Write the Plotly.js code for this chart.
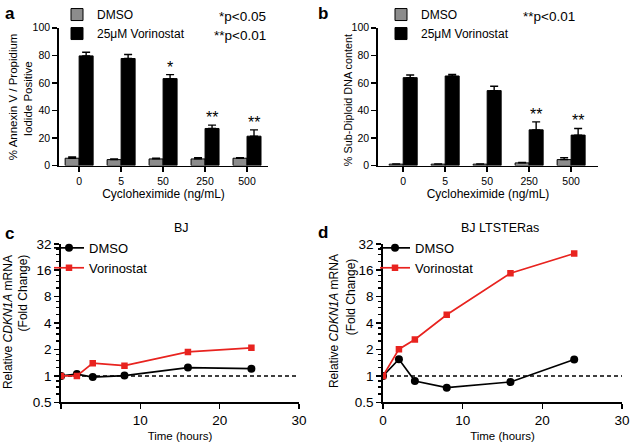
<!DOCTYPE html>
<html>
<head>
<meta charset="utf-8">
<script src="https://cdn.plot.ly/plotly-3.0.1.min.js"></script>
<style>
html, body { margin: 0; padding: 0; background: #fff; }
#chart { width: 631px; height: 445px; }
</style>
</head>
<body>
<div id="chart"></div>
<script>
// ---- data ----
const categories = ['0', '5', '50', '250', '500'];
const annexinDMSO = [5.3, 4.3, 4.8, 4.8, 5.3];
const annexinDMSOErr = [1.0, 0.4, 0.5, 0.8, 0.3];
const annexinVor = [79.6, 77.7, 63.1, 26.9, 21.3];
const annexinVorErr = [2.6, 2.9, 2.9, 2.4, 4.6];
const annexinSig = ['', '', '*', '**', '**'];

const subG1DMSO = [1.0, 1.0, 1.0, 1.9, 4.3];
const subG1DMSOErr = [0.2, 0.2, 0.2, 0.3, 1.4];
const subG1Vor = [63.8, 65.0, 54.4, 25.9, 22.1];
const subG1VorErr = [1.9, 1.2, 3.1, 5.8, 4.8];
const subG1Sig = ['', '', '', '**', '**'];

const timeHours = [0, 2, 4, 8, 16, 24];
const bjDMSO = [1.0, 1.05, 0.97, 1.01, 1.245, 1.21];
const bjVor = [1.0, 1.0, 1.40, 1.31, 1.88, 2.09];
const rasDMSO = [1.0, 1.55, 0.877, 0.736, 0.854, 1.54];
const rasVor = [1.0, 2.02, 2.6, 4.98, 14.8, 24.8];

const refX = [0, 30];
const refY = [1, 1];

const barTicks = [0, 20, 40, 60, 80, 100];
const logTicks = [0.5, 1, 2, 4, 8, 16, 32];
const logMinor = [];
[0.5, 1, 2, 4, 8, 16].forEach(b => { logMinor.push(b * 1.25, b * 1.5, b * 1.75); });

// ---- style ----
const FONT = 'Liberation Sans, Arial, sans-serif';
const GRAY = '#8c8c8c';
const RED = '#e8231f';
const W = 631, H = 445;
const px = v => v / W;
const py = v => 1 - v / H;

function barTrace(y, err, name, color, xa, ya, legend) {
  return {
    type: 'bar', x: categories, y: y, name: name, xaxis: xa, yaxis: ya, legend: legend,
    marker: { color: color, line: { color: '#000', width: 1 } },
    error_y: { type: 'data', array: err, arrayminus: err.map(() => 0), symmetric: false,
               color: '#000', thickness: 1.4, width: 4 }
  };
}

function lineTrace(y, name, color, symbol, size, xa, ya, legend) {
  return {
    type: 'scatter', mode: 'lines+markers', x: timeHours, y: y, name: name,
    xaxis: xa, yaxis: ya, legend: legend,
    line: { color: color, width: 1.7 },
    marker: { color: color, symbol: symbol, size: size }
  };
}

function refTrace(xa, ya) {
  return { type: 'scatter', mode: 'lines', x: refX, y: refY, xaxis: xa, yaxis: ya,
           showlegend: false, hoverinfo: 'skip',
           line: { color: '#000', width: 1.4, dash: '4px,3px' } };
}

const data = [
  barTrace(annexinDMSO, annexinDMSOErr, 'DMSO', GRAY, 'x', 'y', 'legend'),
  barTrace(annexinVor, annexinVorErr, '25\u03bcM Vorinostat', '#000', 'x', 'y', 'legend'),
  barTrace(subG1DMSO, subG1DMSOErr, 'DMSO', GRAY, 'x2', 'y2', 'legend2'),
  barTrace(subG1Vor, subG1VorErr, '25\u03bcM Vorinostat', '#000', 'x2', 'y2', 'legend2'),
  refTrace('x3', 'y3'),
  lineTrace(bjDMSO, 'DMSO', '#000', 'circle', 8, 'x3', 'y3', 'legend3'),
  lineTrace(bjVor, 'Vorinostat', RED, 'square', 6.5, 'x3', 'y3', 'legend3'),
  refTrace('x4', 'y4'),
  lineTrace(rasDMSO, 'DMSO', '#000', 'circle', 8, 'x4', 'y4', 'legend4'),
  lineTrace(rasVor, 'Vorinostat', RED, 'square', 6.5, 'x4', 'y4', 'legend4')
];

const axisBase = {
  showline: true, linecolor: '#000', linewidth: 1.8, ticks: 'outside', ticklen: 5,
  tickwidth: 1.6, tickcolor: '#000', showgrid: false, zeroline: false,
  automargin: false, fixedrange: true
};

function catX(domain, range, anchor) {
  return Object.assign({}, axisBase, {
    domain: domain, anchor: anchor, type: 'category', range: range,
    tickfont: { family: FONT, size: 10.5, color: '#000' },
    title: { text: 'Cycloheximide (ng/mL)', font: { family: FONT, size: 12, color: '#000' }, standoff: 3 }
  });
}
function barY(domain, anchor) {
  return Object.assign({}, axisBase, {
    domain: domain, anchor: anchor, range: [0, 100], tickvals: barTicks,
    tickfont: { family: FONT, size: 10.5, color: '#000' }
  });
}
function timeX(domain, anchor, ticktext) {
  return Object.assign({}, axisBase, {
    domain: domain, anchor: anchor, range: [0, 30], tickvals: [0, 10, 20, 30], ticktext: ticktext,
    tickfont: { family: FONT, size: 13.5, color: '#000' },
    title: { text: 'Time (hours)', font: { family: FONT, size: 11.5, color: '#000' }, standoff: 4 }
  });
}
function logY(domain, anchor) {
  return Object.assign({}, axisBase, {
    domain: domain, anchor: anchor, type: 'log', range: [Math.log10(0.5), Math.log10(32)],
    tickvals: logTicks, ticktext: logTicks.map(String),
    minor: { tickvals: logMinor, ticks: 'outside', ticklen: 3, tickwidth: 1.4, tickcolor: '#000', showgrid: false },
    tickfont: { family: FONT, size: 13.5, color: '#000' }
  });
}

const annotations = [];
function sigAnn(sig, vals, errs, xref, yref) {
  sig.forEach((s, i) => {
    if (!s) return;
    annotations.push({ xref: xref, yref: yref, x: i + 0.167, y: vals[i] + errs[i], text: s,
      showarrow: false, yanchor: 'bottom', yshift: -3,
      font: { family: FONT, size: 16, color: '#000' } });
  });
}
sigAnn(annexinSig, annexinVor, annexinVorErr, 'x', 'y');
sigAnn(subG1Sig, subG1Vor, subG1VorErr, 'x2', 'y2');

function paperText(text, x, y, size, xanchor, angle) {
  annotations.push({ xref: 'paper', yref: 'paper', x: px(x), y: py(y), text: text,
    showarrow: false, xanchor: xanchor || 'left', yanchor: 'middle', textangle: angle || 0,
    font: { family: FONT, size: size, color: '#000' } });
}
paperText('<b>a</b>', 3, 10, 17);
paperText('<b>b</b>', 316, 10, 17);
paperText('<b>c</b>', 3, 232, 17);
paperText('<b>d</b>', 316, 231, 17);
paperText('*p<0.05', 268, 13, 13.5, 'right');
paperText('**p<0.01', 268, 32, 13.5, 'right');
paperText('**p<0.01', 577, 13, 13.5, 'right');
paperText('BJ', 181, 226, 12.5, 'center');
paperText('BJ LTSTERas', 500, 226, 12.5, 'center');
// y-axis titles
paperText('% Annexin V / Propidium', 13, 94, 11.5, 'center', -90);
paperText('Iodide Positive', 28, 96, 11.5, 'center', -90);
paperText('% Sub-Diploid DNA content', 348, 97, 10.8, 'center', -90);
paperText('Relative <i>CDKN1A</i> mRNA', 8, 321, 12, 'center', -90);
paperText('(Fold Change)', 23, 292, 12, 'center', -90);
paperText('Relative <i>CDKN1A</i> mRNA', 334, 320, 12, 'center', -90);
paperText('(Fold Change)', 351, 296, 12, 'center', -90);

function legendCfg(x, y, size) {
  return { x: px(x), y: py(y), xanchor: 'left', yanchor: 'top', bgcolor: 'rgba(0,0,0,0)',
           borderwidth: 0, font: { family: FONT, size: size, color: '#000' }, tracegroupgap: 0 };
}

const layout = {
  width: W, height: H, margin: { l: 0, r: 0, t: 0, b: 0 },
  paper_bgcolor: '#fff', plot_bgcolor: 'rgba(0,0,0,0)',
  barmode: 'group', bargap: 0.333, bargroupgap: 0,
  showlegend: true,
  font: { family: FONT, color: '#000' },
  xaxis: catX([px(59), px(268)], [-0.48, 4.5], 'y'),
  yaxis: barY([py(163), py(24)], 'x'),
  xaxis2: catX([px(378), px(598)], [-0.6, 4.64], 'y2'),
  yaxis2: barY([py(163), py(24)], 'x2'),
  xaxis3: timeX([px(61), px(299)], 'y3', ['', '10', '20', '30']),
  yaxis3: logY([py(402), py(242)], 'x3'),
  xaxis4: timeX([px(383), px(622)], 'y4', ['0', '10', '20', '30']),
  yaxis4: logY([py(402), py(242)], 'x4'),
  legend: legendCfg(57, -4, 12),
  legend2: legendCfg(381, -4, 12),
  legend3: legendCfg(49, 231, 13),
  legend4: legendCfg(375, 231, 13),
  annotations: annotations
};

Plotly.newPlot('chart', data, layout, { staticPlot: true, displayModeBar: false });
</script>
</body>
</html>
